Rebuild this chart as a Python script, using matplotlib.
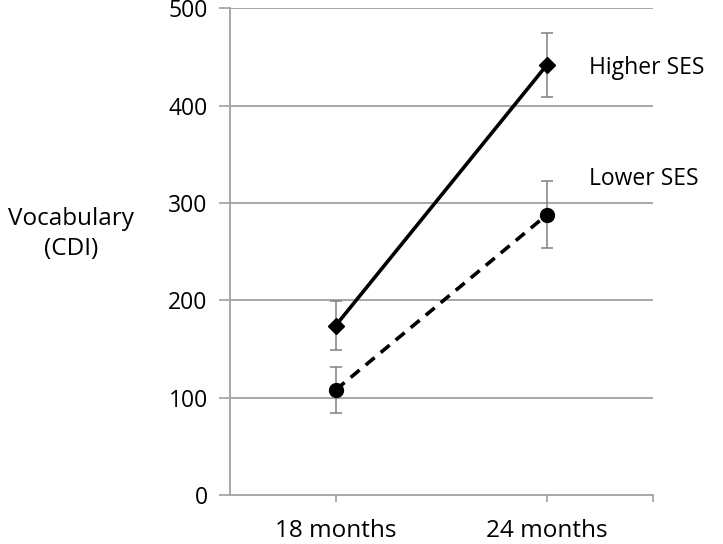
import numpy as np
import matplotlib
matplotlib.use("Agg")
import matplotlib.pyplot as plt

plt.rcParams['font.family'] = ['Open Sans', 'DejaVu Sans']

# data
ages = ["18 months", "24 months"]
higher_ses = [174, 442]
higher_err = [25, 33]
lower_ses = [108, 288]
lower_err = [24, 34]
yticks = [0, 100, 200, 300, 400, 500]

fig = plt.figure(figsize=(7.23, 5.44), dpi=100)
ax = fig.add_axes([0.318, 0.090, 0.585, 0.895])

x = np.arange(len(ages)) + 0.5
grid_col = "#a0a0a0"

for yv in yticks[1:]:
    ax.axhline(yv, color=grid_col, lw=1.3, zorder=0)

# error bars (grey)
ax.errorbar(x, higher_ses, yerr=higher_err, fmt="none", ecolor="#808080",
            elinewidth=1.1, capsize=4, capthick=1.1, zorder=2)
ax.errorbar(x, lower_ses, yerr=lower_err, fmt="none", ecolor="#808080",
            elinewidth=1.1, capsize=4, capthick=1.1, zorder=2)

ax.plot(x, higher_ses, color="black", lw=2.6, marker="D", ms=8, zorder=3)
ax.plot(x, lower_ses, color="black", lw=2.6, ls=(0, (3.2, 2.2)), marker="o",
        ms=10, zorder=3)

ax.text(x[1] + 0.2, 439, "Higher SES", fontsize=16.5, va="center",
        ha="left", clip_on=False)
ax.text(x[1] + 0.2, 325, "Lower SES", fontsize=16.5, va="center",
        ha="left", clip_on=False)

ax.set_xlim(0, 2)
ax.set_ylim(0, 500)
ax.set_yticks(yticks)
ax.set_yticklabels([str(v) for v in yticks], fontsize=16.5)
ax.set_xticks(x)
ax.set_xticklabels(ages, fontsize=17.5)
ax.set_xticks([2.0], minor=True)
ax.tick_params(axis="x", which="both", length=5, color=grid_col, width=1.2, pad=12)
ax.tick_params(axis="y", length=8, color=grid_col, width=1.2, pad=8)

for side in ["top", "right"]:
    ax.spines[side].set_visible(False)
for side in ["left", "bottom"]:
    ax.spines[side].set_color(grid_col)
    ax.spines[side].set_linewidth(1.3)

ax.set_ylabel("Vocabulary\n(CDI)", fontsize=17.5, rotation=0, ha="center",
              va="center", labelpad=0, linespacing=1.3)
ax.yaxis.set_label_coords(-0.376, 0.536)

fig.savefig("out.png", dpi=100)
